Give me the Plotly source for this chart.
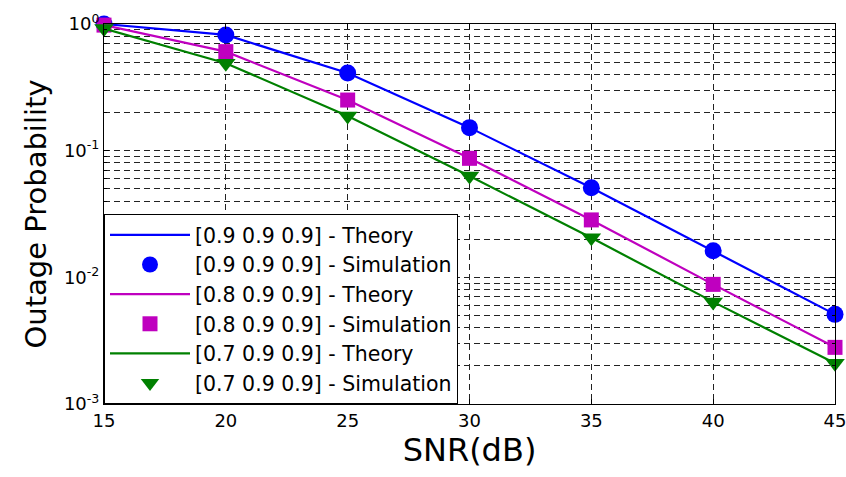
import plotly.graph_objects as go

snr = [15, 20, 25, 30, 35, 40, 45]

theory_a = [1.0, 0.82, 0.41, 0.152, 0.051, 0.0162, 0.0051]
sim_a = [1.0, 0.82, 0.41, 0.152, 0.051, 0.0162, 0.0051]
theory_b = [0.98, 0.605, 0.251, 0.087, 0.0284, 0.0088, 0.0028]
sim_b = [0.98, 0.605, 0.251, 0.087, 0.0284, 0.0088, 0.0028]
theory_c = [0.92, 0.49, 0.188, 0.063, 0.0205, 0.0064, 0.0021]
sim_c = [0.92, 0.49, 0.188, 0.063, 0.0205, 0.0064, 0.0021]

names = ["[0.9 0.9 0.9]", "[0.8 0.9 0.9]", "[0.7 0.9 0.9]"]
colors = ["#0000FF", "#BF00BF", "#008000"]
symbols = ["circle", "square", "triangle-down"]
msizes = [17, 15, 17]

x_ticks = [15, 20, 25, 30, 35, 40, 45]
decades = [-3, -2, -1, 0]

y_major = [10 ** d for d in decades]
y_major_text = [f"10<sup>{d}</sup>" for d in decades]
y_minor = [m * 10 ** d for d in decades[:-1] for m in range(2, 10)]

fig = go.Figure()
series = [(theory_a, sim_a), (theory_b, sim_b), (theory_c, sim_c)]
for i, (th, sm) in enumerate(series):
    fig.add_trace(go.Scatter(
        x=snr, y=th, mode="lines", name=f"{names[i]} - Theory",
        line=dict(color=colors[i], width=2.2), legendgroup=f"t{i}", cliponaxis=False))
    fig.add_trace(go.Scatter(
        x=snr, y=sm, mode="markers", name=f"{names[i]} - Simulation",
        marker=dict(color=colors[i], symbol=symbols[i], size=msizes[i]),
        legendgroup=f"s{i}", cliponaxis=False))

font_fam = "DejaVu Sans, Arial, sans-serif"
grid_dash = "6px,4px"
fig.update_layout(
    width=846, height=477,
    margin=dict(l=104, r=11, t=24, b=73),
    paper_bgcolor="white", plot_bgcolor="white",
    font=dict(family=font_fam, color="black", size=18),
    showlegend=True,
    legend=dict(
        x=0, y=0, xanchor="left", yanchor="bottom",
        bgcolor="white", bordercolor="black", borderwidth=1,
        font=dict(size=20.5, family=font_fam),
        traceorder="grouped", tracegroupgap=0,
        itemwidth=80,
    ),
    xaxis=dict(
        range=[14.9999, 45.0001], tickvals=x_ticks,
        ticks="inside", ticklen=5, tickcolor="black",
        ticklabeloverflow="allow", automargin=False,
        showline=True, linecolor="black", linewidth=1, mirror="ticks",
        showgrid=True, gridcolor="#222", gridwidth=1, griddash=grid_dash,
        zeroline=False,
        title=dict(text="SNR(dB)", font=dict(size=32, family=font_fam), standoff=4),
        tickfont=dict(size=18),
    ),
    yaxis=dict(
        type="log", range=[-3, 0], tickvals=y_major, ticktext=y_major_text,
        ticks="inside", ticklen=5, tickcolor="black",
        showline=True, linecolor="black", linewidth=1, mirror="ticks",
        showgrid=True, gridcolor="#222", gridwidth=1, griddash=grid_dash,
        zeroline=False,
        minor=dict(tickvals=y_minor, ticks="inside", ticklen=3, tickcolor="black",
                   showgrid=True, gridcolor="#222", gridwidth=1, griddash=grid_dash),
        title=dict(text="Outage Probability", font=dict(size=29, family=font_fam), standoff=8),
        tickfont=dict(size=18),
    ),
)

fig.write_html("out.html")
